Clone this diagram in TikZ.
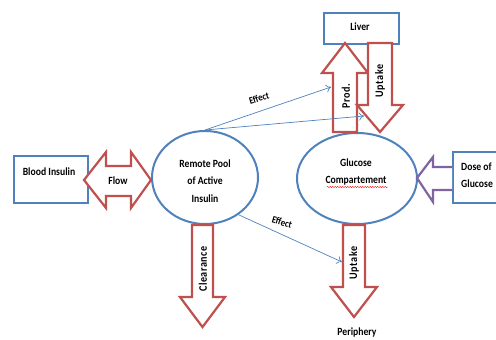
\documentclass[tikz,border=0pt]{standalone}
\usepackage{fontspec}
\setmainfont{Carlito}[FakeStretch=0.88]
\usetikzlibrary{shapes.geometric,decorations.pathmorphing,arrows.meta}
\definecolor{oblue}{HTML}{4F81BD}
\definecolor{ored}{HTML}{C0504D}
\definecolor{opurple}{HTML}{8064A2}
\tikzset{
  txt/.style={font=\fontsize{11}{17.5}\selectfont\bfseries, align=center, inner sep=0pt},
  boxnode/.style={draw=oblue, line width=2pt, fill=white},
  ellnode/.style={ellipse, draw=oblue, line width=2pt, inner sep=0pt},
  blockarrow/.style={draw=ored, line width=2.2pt, fill=white, line join=miter},
  effarrow/.style={draw=oblue, line width=0.7pt, -{To[length=5pt,width=8pt]}},
  vlabel/.style={txt, rotate=90, font=\fontsize{11.5}{14}\selectfont\bfseries\addfontfeatures{LetterSpace=5}},
  efflabel/.style={txt, font=\fontsize{10}{12}\selectfont\bfseries},
}
\begin{document}
\begin{tikzpicture}[x=1pt,y=-1pt]
\useasboundingbox (0,0) rectangle (496,340);
% boxes
\node[boxnode, minimum width=74, minimum height=47, anchor=north west] (blood) at (13,155) {};
\node[txt] (bloodt) at (49,172) {Blood Insulin};
\node[boxnode, minimum width=75, minimum height=31, anchor=north west] (liver) at (323,12) {};
\node[txt] (livert) at (360,27) {Liver};
\node[boxnode, minimum width=50, minimum height=51, anchor=north west] (dose) at (452,151) {};
\node[txt, align=left, anchor=west] (doset) at (461,175) {Dose of\\Glucose};
% ellipses
\node[ellnode, minimum width=106, minimum height=93] (rp) at (205,177.5) {};
\node[txt] (rpt) at (205,181) {Remote Pool\\of Active\\Insulin};
\node[ellnode, minimum width=120, minimum height=91] (gc) at (357,178.5) {};
\node[txt] (gct) at (356,172) {Glucose\\Compartement};
\draw[red, line width=0.4pt, decorate, decoration={snake, amplitude=0.6pt, segment length=2.5pt}]
  (327,187) -- (388,187);
% flow double arrow
\draw[blockarrow] (84,180) -- (106,152) -- (106,166) -- (131,166) -- (131,152) -- (151,180)
  -- (131,208) -- (131,196) -- (106,196) -- (106,208) -- cycle;
\node[txt] (flow) at (118,181) {Flow};
% purple dose arrow
\draw[blockarrow, draw=opurple] (452,167) -- (433,167) -- (433,157) -- (417,178) -- (433,202)
  -- (433,190) -- (452,190);
% prod arrow
\draw[blockarrow] (345,43) -- (368,73) -- (357,73) -- (357,132) -- (333,132) -- (333,73) -- (322,73) -- cycle;
\node[vlabel] (prod) at (346,96) {Prod.};
% uptake liver arrow
\draw[blockarrow] (368,43) -- (392,43) -- (392,105) -- (403,105) -- (380,132) -- (357,105) -- (368,105) -- cycle;
\node[vlabel] (upl) at (380,81) {Uptake};
% clearance
\draw[blockarrow] (192,225) -- (213,225) -- (213,297) -- (225,297) -- (202.5,327) -- (180,297) -- (192,297) -- cycle;
\node[vlabel] (clr) at (203,269) {Clearance};
% periphery uptake
\draw[blockarrow] (343,225) -- (365,225) -- (365,287) -- (377,287) -- (354,317) -- (331,287) -- (343,287) -- cycle;
\node[vlabel] (upp) at (354,263) {Uptake};
\node[txt] (peri) at (357,333) {Periphery};
% effect arrows
\coordinate (e1) at (331,87);
\coordinate (e2) at (364,116);
\coordinate (e3) at (342,262);
\draw[effarrow] (rp.north) -- (e1);
\draw[effarrow] (rp.north) -- (e2);
\draw[effarrow] (rp.-48) -- (e3);
\node[efflabel, rotate=17] (ef1) at (259,98) {Effect};
\node[efflabel, rotate=-17] (ef2) at (282,222) {Effect};
\end{tikzpicture}
\end{document}
